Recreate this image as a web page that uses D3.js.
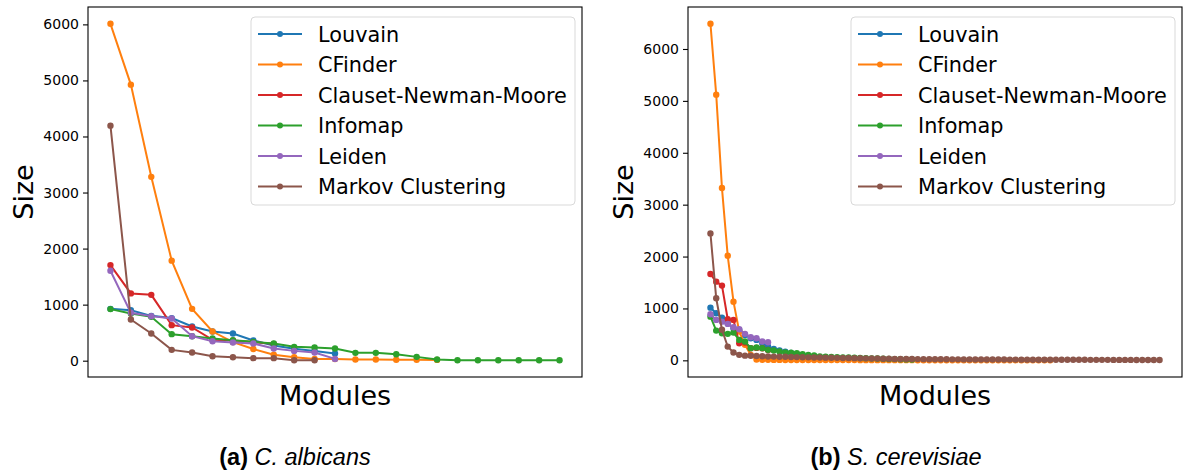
<!DOCTYPE html>
<html>
<head>
<meta charset="utf-8">
<script src="https://cdn.jsdelivr.net/npm/d3@7"></script>
<style>
  body { margin: 0; background: #fff; }
  svg { display: block; }
</style>
</head>
<body>
<svg id="chart"></svg>
<script>
// method names, in plotting order
const methods = ['Louvain', 'CFinder', 'Clauset-Newman-Moore', 'Infomap', 'Leiden', 'Markov Clustering'];
const colours = ['#1f77b4', '#ff7f0e', '#d62728', '#2ca02c', '#9467bd', '#8c564b'];
const yTicks = [0, 1000, 2000, 3000, 4000, 5000, 6000];

// (a) C. albicans - module sizes, largest first
const louvainA = [925, 900, 800, 760, 610, 520, 486, 361, 272, 213, 172, 130];
const cfinderA = [6010, 4925, 3280, 1785, 925, 520, 332, 208, 107, 60, 30, 28, 20, 20, 18, 16, 14];
const clausetA = [1705, 1200, 1175, 634, 593, 372, 362, 332, 300];
const infomapA = [920, 843, 782, 473, 437, 396, 366, 336, 307, 247, 235, 217, 140, 140, 116, 68, 21, 9, 9, 9, 9, 9, 9];
const leidenA = [1604, 854, 795, 753, 437, 348, 325, 307, 218, 175, 146, 32];
const markovA = [4193, 735, 485, 193, 146, 80, 62, 45, 45, 9, 9];

// (b) S. cerevisiae
const louvainB = [1015, 907, 823, 715, 619, 587, 490, 427, 394, 330, 266, 220, 190, 165, 140, 120];
const cfinderB = [6485, 5120, 3320, 2015, 1130, 554, 298, 106, 15, 10,
  9, 8, 8, 7, 7, 7, 6, 6, 6, 6,
  5, 5, 5, 5, 5, 5, 4, 4, 4, 4,
  4, 4, 4, 4, 4, 4, 3, 3, 3, 3,
  3, 3, 3, 3, 3, 3, 3, 3, 3, 3,
  3, 3, 3, 3, 3, 3, 3, 3, 3, 3];
const clausetB = [1663, 1516, 1440, 792, 779, 330, 345, 232, 240, 232, 200];
const infomapB = [842, 573, 523, 510, 535, 394, 362, 235, 246, 235,
  202, 190, 170, 150, 145, 138, 119, 106, 92, 73,
  70, 66, 62, 58, 54, 50, 46, 42, 38, 34,
  30, 27, 24, 21, 18, 15];
const leidenB = [888, 779, 746, 702, 638, 600, 510, 446, 427, 362, 350];
const markovB = [2446, 1196, 590, 265, 150, 106, 90, 87, 85, 80,
  75, 72, 70, 68, 65, 62, 60, 58, 56, 54,
  52, 50, 48, 46, 44, 42, 40, 38, 36, 34,
  32, 30, 28, 27, 26, 25, 24, 23, 22, 21,
  20, 20, 19, 19, 18, 18, 17, 17, 16, 16,
  15, 15, 14, 14, 13, 13, 12, 12, 12, 11,
  11, 11, 10, 10, 10, 10, 9, 9, 9, 9,
  8, 8, 8, 8, 7, 7, 7, 6, 6];

const captionA = { tag: '(a)', name: 'C. albicans' };
const captionB = { tag: '(b)', name: 'S. cerevisiae' };

class sizePanel {
  constructor(_config, _series) {
    this.config = {
      parent: _config.parent,
      left: _config.left,
      top: 7,
      width: 494,
      height: 370,
      caption: _config.caption,
      captionX: _config.captionX
    };
    this.series = _series;
    this.initVis();
  }

  initVis() {
    let vis = this;
    vis.g = vis.config.parent.append('g')
      .attr('transform', `translate(${vis.config.left},${vis.config.top})`);

    // matplotlib style 5% margins on both axes
    let n = d3.max(vis.series, d => d.length);
    let xPad = 0.05 * (n - 1);
    vis.xScale = d3.scaleLinear()
      .domain([-xPad, n - 1 + xPad])
      .range([0, vis.config.width]);

    let yMin = d3.min(vis.series, s => d3.min(s));
    let yMax = d3.max(vis.series, s => d3.max(s));
    let yPad = 0.05 * (yMax - yMin);
    vis.yScale = d3.scaleLinear()
      .domain([yMin - yPad, yMax + yPad])
      .range([vis.config.height, 0]);

    vis.yAxis = d3.axisLeft(vis.yScale)
      .tickValues(yTicks)
      .tickSize(5)
      .tickPadding(4)
      .tickFormat(d3.format('d'));

    vis.g.append('g')
      .attr('class', 'yAxis')
      .call(vis.yAxis)
      .call(g => g.select('.domain').remove())
      .call(g => g.selectAll('line').attr('stroke', '#000').attr('stroke-width', 1.1))
      .call(g => g.selectAll('text')
        .attr('font-family', 'DejaVu Sans')
        .attr('font-size', 14)
        .attr('fill', '#000'));

    vis.g.append('rect')
      .attr('width', vis.config.width)
      .attr('height', vis.config.height)
      .attr('fill', 'none')
      .attr('stroke', '#000')
      .attr('stroke-width', 1.1);

    vis.g.append('text')
      .attr('transform', `translate(-55, ${vis.config.height / 2}) rotate(-90)`)
      .attr('text-anchor', 'middle')
      .attr('font-family', 'DejaVu Sans')
      .attr('font-size', 27)
      .text('Size');

    vis.g.append('text')
      .attr('x', vis.config.width / 2)
      .attr('y', vis.config.height + 28)
      .attr('text-anchor', 'middle')
      .attr('font-family', 'DejaVu Sans')
      .attr('font-size', 27)
      .text('Modules');

    let cap = vis.config.parent.append('text')
      .attr('x', vis.config.captionX)
      .attr('y', 465)
      .attr('text-anchor', 'middle')
      .attr('font-family', 'Liberation Sans')
      .attr('font-size', 23.5);
    cap.append('tspan').attr('font-weight', 'bold').text(vis.config.caption.tag + ' ');
    cap.append('tspan').attr('font-style', 'italic').text(vis.config.caption.name);

    vis.updateVis();
    vis.drawLegend();
  }

  updateVis() {
    let vis = this;
    let line = d3.line()
      .x((d, i) => vis.xScale(i))
      .y(d => vis.yScale(d));

    let groups = vis.g.selectAll('.series')
      .data(vis.series)
      .join('g')
      .attr('class', 'series')
      .style('fill', (d, i) => colours[i]);

    groups.append('path')
      .attr('d', d => line(d))
      .attr('fill', 'none')
      .attr('stroke', (d, i) => colours[i])
      .attr('stroke-width', 2);

    groups.selectAll('circle')
      .data(d => d)
      .join('circle')
      .attr('cx', (d, i) => vis.xScale(i))
      .attr('cy', d => vis.yScale(d))
      .attr('r', 3.2);
  }

  drawLegend() {
    let vis = this;
    let leg = vis.g.append('g')
      .attr('transform', 'translate(163, 10)');

    leg.append('rect')
      .attr('width', 324)
      .attr('height', 188)
      .attr('rx', 4)
      .attr('fill', '#fff')
      .attr('fill-opacity', 0.8)
      .attr('stroke', '#d9d9d9')
      .attr('stroke-width', 1);

    let rows = leg.selectAll('.legrow')
      .data(methods)
      .join('g')
      .attr('class', 'legrow')
      .attr('transform', (d, i) => `translate(0, ${17 + i * 30.5})`);

    rows.append('line')
      .attr('x1', 7).attr('x2', 51)
      .attr('stroke', (d, i) => colours[i])
      .attr('stroke-width', 2);

    rows.append('circle')
      .attr('cx', 29)
      .attr('r', 3)
      .attr('fill', (d, i) => colours[i]);

    rows.append('text')
      .attr('x', 67)
      .attr('y', 7.5)
      .attr('font-family', 'DejaVu Sans')
      .attr('font-size', 20.8)
      .attr('fill', '#000')
      .text(d => d);
  }
}

const svg = d3.select('#chart')
  .attr('width', 1184)
  .attr('height', 473);

new sizePanel({ parent: svg, left: 88, caption: captionA, captionX: 295 },
  [louvainA, cfinderA, clausetA, infomapA, leidenA, markovA]);
new sizePanel({ parent: svg, left: 688, caption: captionB, captionX: 896 },
  [louvainB, cfinderB, clausetB, infomapB, leidenB, markovB]);
</script>
</body>
</html>
